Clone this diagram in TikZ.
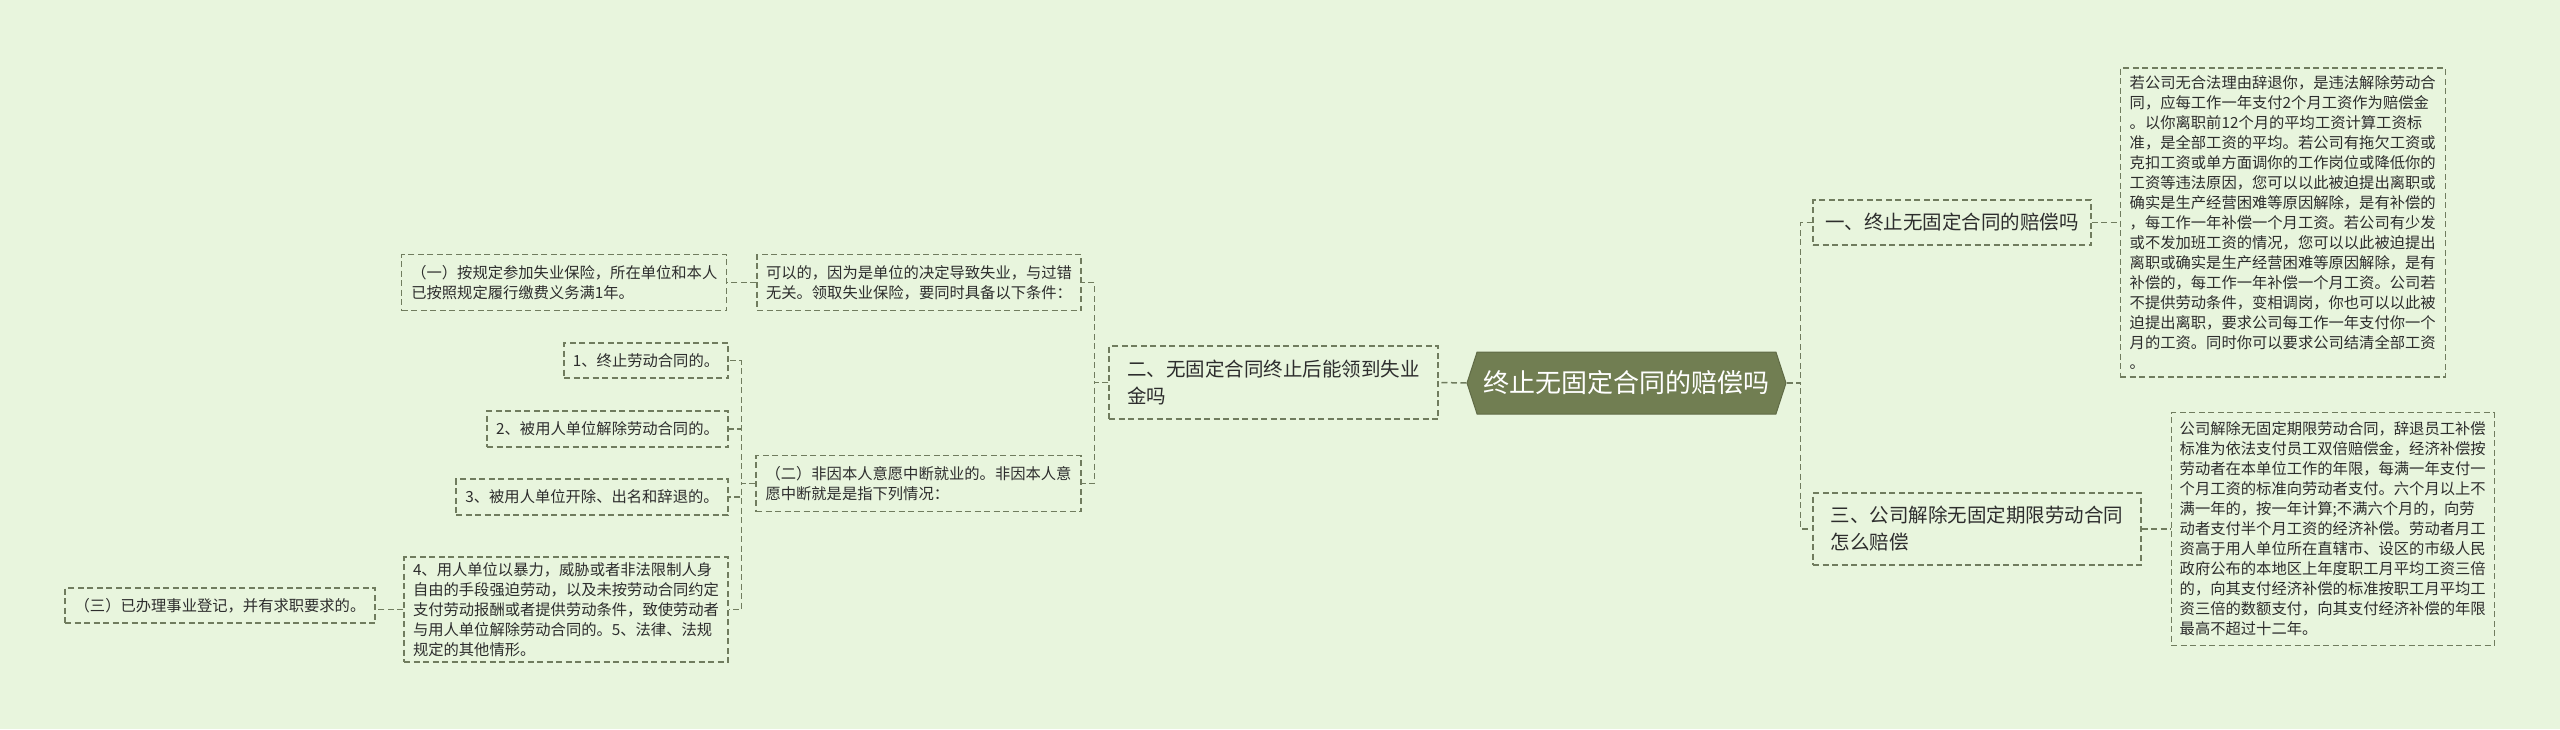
\documentclass[tikz,border=0pt]{standalone}
\usepackage{fontspec}
\setmainfont{Noto Sans CJK SC}
\usetikzlibrary{shapes.symbols, positioning}
\definecolor{bgcol}{RGB}{232,245,221}
\definecolor{rootcol}{RGB}{113,126,82}
\definecolor{edgecol}{RGB}{112,124,94}
\definecolor{txtcol}{RGB}{45,45,45}

\begin{document}
\begin{tikzpicture}[
        x=1pt, y=-1pt,
        rootbox/.style={signal, signal to=west and east, signal pointer angle=144, fill=rootcol, draw=rootcol!85!black, line width=1pt, text=white, font=\fontsize{26}{30}\selectfont, minimum width=319pt, minimum height=62pt, inner sep=0pt},
        branch/.style={rectangle, draw=edgecol, line width=1.2pt, dash pattern=on 6pt off 3.5pt, text=txtcol, font=\fontsize{19.5}{27}\selectfont, align=left, inner sep=0pt},
        leaf/.style={rectangle, draw=edgecol, line width=1.2pt, dash pattern=on 6pt off 3.5pt, text=txtcol, font=\fontsize{15.3}{20}\selectfont, align=left, inner sep=0pt},
        line/.style={draw=edgecol, line width=1.5pt, dash pattern=on 6pt off 3.5pt}
    ]
        \fill [bgcol] (0,0) rectangle (2560,729);
        \useasboundingbox (0,0) rectangle (2560,729);

        % Root
        \node [rootbox] (root) at (1626.5,383) {终止无固定合同的赔偿吗};

        % Right side
        \node [branch, minimum width=278pt, minimum height=45pt] (one) at (1952,222.5) {一、终止无固定合同的赔偿吗};
        \node [branch, minimum width=328pt, minimum height=72pt] (three) at (1977,529) {三、公司解除无固定期限劳动合同\\怎么赔偿};
        \node [leaf, right=28pt of one, minimum width=325pt, minimum height=309pt] (one_leaf) {若公司无合法理由辞退你，是违法解除劳动合\\同，应每工作一年支付2个月工资作为赔偿金\\。以你离职前12个月的平均工资计算工资标\\准，是全部工资的平均。若公司有拖欠工资或\\克扣工资或单方面调你的工作岗位或降低你的\\工资等违法原因，您可以以此被迫提出离职或\\确实是生产经营困难等原因解除，是有补偿的\\，每工作一年补偿一个月工资。若公司有少发\\或不发加班工资的情况，您可以以此被迫提出\\离职或确实是生产经营困难等原因解除，是有\\补偿的，每工作一年补偿一个月工资。公司若\\不提供劳动条件，变相调岗，你也可以以此被\\迫提出离职，要求公司每工作一年支付你一个\\月的工资。同时你可以要求公司结清全部工资\\。};
        \node [leaf, right=29pt of three, minimum width=323pt, minimum height=233pt] (three_leaf) {公司解除无固定期限劳动合同，辞退员工补偿\\标准为依法支付员工双倍赔偿金，经济补偿按\\劳动者在本单位工作的年限，每满一年支付一\\个月工资的标准向劳动者支付。六个月以上不\\满一年的，按一年计算;不满六个月的，向劳\\动者支付半个月工资的经济补偿。劳动者月工\\资高于用人单位所在直辖市、设区的市级人民\\政府公布的本地区上年度职工月平均工资三倍\\的，向其支付经济补偿的标准按职工月平均工\\资三倍的数额支付，向其支付经济补偿的年限\\最高不超过十二年。};

        % Left side
        \node [branch, minimum width=329pt, minimum height=73pt] (two) at (1273.5,382.5) {二、无固定合同终止后能领到失业\\金吗};
        \node [leaf, minimum width=324pt, minimum height=56pt] (can) at (919,282.5) {可以的，因为是单位的决定导致失业，与过错\\无关。领取失业保险，要同时具备以下条件：};
        \node [leaf, left=29pt of can, minimum width=325pt, minimum height=56pt] (cond_one) {（一）按规定参加失业保险，所在单位和本人\\已按照规定履行缴费义务满1年。};
        \node [leaf, minimum width=325pt, minimum height=56pt] (cond_two) at (918.5,483.5) {（二）非因本人意愿中断就业的。非因本人意\\愿中断就是是指下列情况：};
        \node [leaf, minimum width=164pt, minimum height=35pt] (case_one) at (646,360.5) {1、终止劳动合同的。};
        \node [leaf, minimum width=241pt, minimum height=36pt] (case_two) at (607.5,429) {2、被用人单位解除劳动合同的。};
        \node [leaf, minimum width=272pt, minimum height=36pt] (case_three) at (592,497) {3、被用人单位开除、出名和辞退的。};
        \node [leaf, minimum width=324pt, minimum height=105pt] (case_four) at (566,609.5) {4、用人单位以暴力，威胁或者非法限制人身\\自由的手段强迫劳动，以及未按劳动合同约定\\支付劳动报酬或者提供劳动条件，致使劳动者\\与用人单位解除劳动合同的。5、法律、法规\\规定的其他情形。};
        \node [leaf, minimum width=310pt, minimum height=35pt] (cond_three) at (220,605.5) {（三）已办理事业登记，并有求职要求的。};

        % Paths
        \path [line] (root.east) -- ++(14,0) |- (one.west);
        \path [line] (root.east) -- ++(14,0) |- (three.west);
        \path [line] (one.east) -- (one_leaf.west);
        \path [line] (three.east) -- (three_leaf.west);
        \path [line] (root.west) -- (two.east);
        \path [line] (two.west) -- ++(-14,0) |- (can.east);
        \path [line] (two.west) -- ++(-14,0) |- (cond_two.east);
        \path [line] (can.west) -- (cond_one.east);
        \path [line] (cond_two.west) -- ++(-14,0) |- (case_one.east);
        \path [line] (cond_two.west) -- ++(-14,0) |- (case_two.east);
        \path [line] (cond_two.west) -- ++(-14,0) |- (case_three.east);
        \path [line] (cond_two.west) -- ++(-14,0) |- (case_four.east);
        \path [line] (case_four.west) -- (case_four.west -| cond_three.east);
    \end{tikzpicture}
\end{document}
